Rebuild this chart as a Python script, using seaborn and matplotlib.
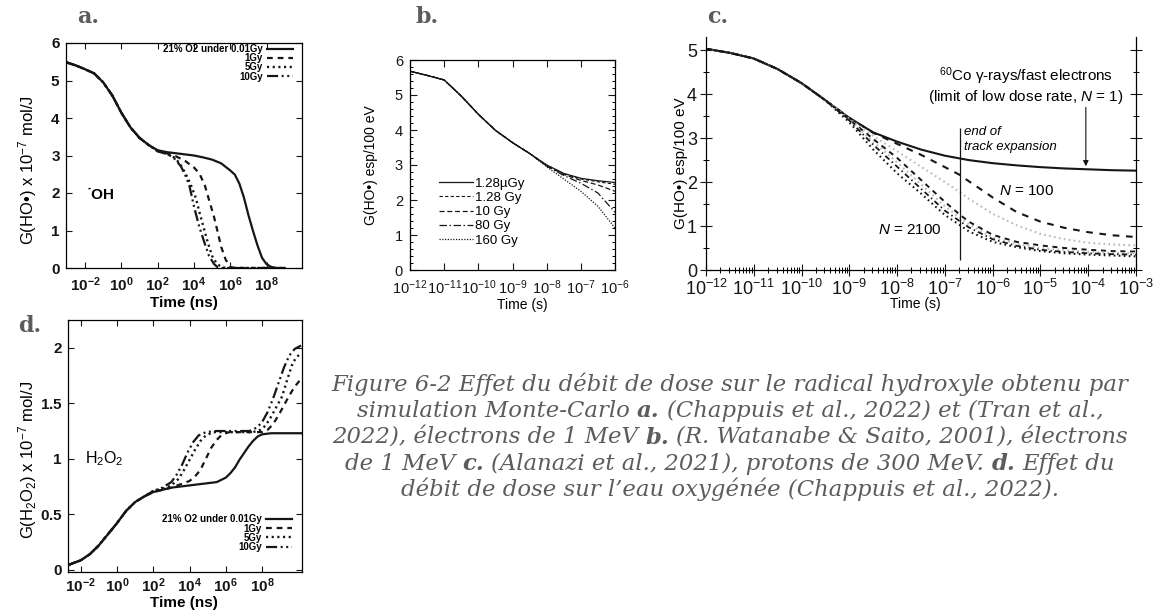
import numpy as np
import pandas as pd
import matplotlib
matplotlib.use("Agg")
import matplotlib.pyplot as plt
import seaborn as sns
from matplotlib.ticker import (FixedLocator, FuncFormatter, MultipleLocator,
                               LogLocator, NullLocator, NullFormatter,
                               LogFormatterMathtext)

# ---------------------------------------------------------------- data
# times are given as decimal exponents (log10 of the time), G values as read

# (a) G(HO.) vs time (ns) -- common early part, then one tail per dose
A_T_EARLY = [-3, -2.5, -2, -1.5, -1, -0.5, 0, 0.5, 1, 1.5]
A_G_EARLY = [5.48, 5.40, 5.30, 5.19, 4.95, 4.60, 4.14, 3.75, 3.47, 3.28]
A_T_LOW = [2, 2.5, 3, 3.5, 4, 4.5, 5, 5.5, 6, 6.25, 6.5, 6.75, 7, 7.25, 7.5,
           7.75, 8, 8.25, 8.5, 9]
A_G_LOW = [3.14, 3.09, 3.06, 3.03, 3.0, 2.95, 2.89, 2.79, 2.6, 2.49, 2.25,
           1.88, 1.41, 0.99, 0.6, 0.27, 0.1, 0.03, 0.0, 0.0]
A_T_1GY = [2, 2.5, 3, 3.5, 4, 4.3, 4.6, 4.85, 5.1, 5.3, 5.5, 5.75, 6, 6.25, 9]
A_G_1GY = [3.13, 3.06, 2.98, 2.86, 2.68, 2.52, 2.2, 1.78, 1.37, 0.97, 0.56,
           0.22, 0.03, 0.0, 0.0]
A_T_5GY = [2, 2.5, 2.9, 3.2, 3.5, 3.8, 4.1, 4.3, 4.56, 4.75, 5.0, 5.25, 5.5,
           5.75, 9]
A_G_5GY = [3.12, 3.05, 2.95, 2.8, 2.55, 2.25, 1.87, 1.49, 1.03, 0.7, 0.32,
           0.12, 0.03, 0.0, 0.0]
A_T_10GY = [2, 2.5, 2.83, 3.05, 3.28, 3.5, 3.74, 4.01, 4.28, 4.56, 4.83, 5.1,
            5.3, 5.5, 9]
A_G_10GY = [3.11, 3.04, 2.96, 2.85, 2.71, 2.5, 2.21, 1.62, 1.12, 0.7, 0.32,
            0.11, 0.02, 0.0, 0.0]
A_LABELS = ["21% O2 under 0.01Gy", "1Gy", "5Gy", "10Gy"]

# (b) G(HO.) vs time (s), electrons
B_T_EARLY = [-12, -11.5, -11, -10.5, -10, -9.5, -9, -8.5]
B_G_EARLY = [5.68, 5.56, 5.43, 4.97, 4.45, 3.99, 3.64, 3.33]
B_T_TAIL = [-8, -7.5, -7, -6.5, -6]
B_G_TAILS = {
    "1.28\u00b5Gy": [3.0, 2.76, 2.62, 2.55, 2.5],
    "1.28 Gy": [3.0, 2.75, 2.6, 2.52, 2.45],
    "10 Gy": [2.98, 2.73, 2.56, 2.43, 2.25],
    "80 Gy": [2.97, 2.7, 2.48, 2.2, 1.65],
    "160 Gy": [2.95, 2.6, 2.25, 1.82, 1.2],
}

# (c) G(HO.) vs time (s), protons, N = number of tracks
C_T_SOLID = [-12, -11.5, -11, -10.5, -10, -9.5, -9, -8.5, -8, -7.5, -7, -6.5,
             -6, -5.5, -5, -4.5, -4, -3.5, -3]
C_G_SOLID = [5.03, 4.94, 4.81, 4.57, 4.25, 3.86, 3.46, 3.13, 2.92, 2.74, 2.6,
             2.5, 2.43, 2.38, 2.34, 2.31, 2.29, 2.27, 2.26]
C_T_N100 = [-8.5, -8, -7.5, -7, -6.7, -6.5, -6.2, -6, -5.5, -5, -4.5, -4,
            -3.5, -3]
C_G_N100 = [3.12, 2.87, 2.62, 2.34, 2.17, 2.02, 1.8, 1.65, 1.32, 1.1, 0.96,
            0.86, 0.79, 0.75]
C_T_TAIL = [-9, -8.5, -8, -7.5, -7, -6.7, -6.5, -6, -5.5, -5, -4.5, -4, -3.5,
            -3]
C_G_LIGHT1 = [3.44, 3.05, 2.7, 2.35, 2.0, 1.78, 1.62, 1.28, 1.02, 0.82, 0.7,
              0.62, 0.58, 0.56]
C_G_DASH2 = [3.42, 2.98, 2.55, 2.05, 1.55, 1.27, 1.1, 0.8, 0.64, 0.56, 0.5,
             0.46, 0.43, 0.42]
C_G_LIGHT2 = [3.41, 2.92, 2.45, 1.95, 1.45, 1.2, 1.04, 0.74, 0.6, 0.5, 0.45,
              0.41, 0.39, 0.38]
C_G_DASHDOT = [3.4, 2.85, 2.35, 1.85, 1.35, 1.12, 0.97, 0.7, 0.55, 0.46, 0.41,
               0.38, 0.36, 0.35]
C_G_N2100 = [3.36, 2.74, 2.2, 1.74, 1.25, 1.03, 0.88, 0.64, 0.52, 0.43, 0.38,
             0.35, 0.33, 0.31]
C_TRACK_END = -6.68          # end of track expansion (log10 s)
C_TRACK_SPAN = (0.22, 3.24)

# (d) G(H2O2) vs time (ns)
D_T_EARLY = [-2.7, -2.5, -2, -1.5, -1, -0.5, 0, 0.5, 1, 1.5]
D_G_EARLY = [0.04, 0.055, 0.085, 0.14, 0.22, 0.32, 0.42, 0.53, 0.61, 0.66]
D_T_LOW = [2, 2.5, 3, 3.5, 4, 4.5, 5, 5.5, 6, 6.25, 6.5, 6.75, 7, 7.25, 7.5,
           7.75, 8, 8.5, 9, 10.2]
D_G_LOW = [0.7, 0.72, 0.74, 0.75, 0.76, 0.77, 0.78, 0.79, 0.83, 0.87, 0.92,
           0.99, 1.05, 1.11, 1.16, 1.2, 1.22, 1.23, 1.23, 1.23]
D_T_1GY = [2, 2.5, 3, 3.5, 4, 4.3, 4.6, 4.9, 5.2, 5.5, 5.8, 6.2, 7, 8, 8.3,
           8.6, 8.9, 9.2, 9.5, 9.8, 10.15]
D_G_1GY = [0.7, 0.72, 0.74, 0.77, 0.8, 0.84, 0.9, 1.0, 1.1, 1.17, 1.22, 1.24,
           1.24, 1.24, 1.26, 1.31, 1.39, 1.48, 1.57, 1.65, 1.72]
D_T_5GY = [2, 2.5, 3, 3.4, 3.7, 4, 4.3, 4.6, 4.9, 5.3, 6.5, 7.5, 7.9, 8.2,
           8.5, 8.8, 9.1, 9.4, 9.7, 10.15]
D_G_5GY = [0.71, 0.73, 0.76, 0.82, 0.9, 0.99, 1.08, 1.16, 1.21, 1.24, 1.24,
           1.24, 1.26, 1.3, 1.38, 1.47, 1.56, 1.72, 1.87, 1.96]
D_T_10GY = [2, 2.5, 3, 3.3, 3.6, 3.9, 4.2, 4.5, 4.9, 5.5, 6.5, 7.3, 7.7, 8,
            8.3, 8.6, 8.9, 9.2, 9.5, 9.8, 10.15]
D_G_10GY = [0.71, 0.74, 0.79, 0.86, 0.95, 1.06, 1.15, 1.21, 1.24, 1.25, 1.25,
            1.25, 1.28, 1.33, 1.42, 1.54, 1.68, 1.82, 1.93, 1.99, 2.02]

CAPTION = [
    [("Figure 6-2 Effet du d\u00e9bit de dose sur le radical hydroxyle obtenu par", False)],
    [("simulation Monte-Carlo", False), ("a.", True),
     ("(Chappuis et al., 2022) et (Tran et al.,", False)],
    [("2022), \u00e9lectrons de 1 MeV", False), ("b.", True),
     ("(R. Watanabe & Saito, 2001), \u00e9lectrons", False)],
    [("de 1 MeV", False), ("c.", True),
     ("(Alanazi et al., 2021), protons de 300 MeV.", False), ("d.", True),
     ("Effet du", False)],
    [("d\u00e9bit de dose sur l\u2019eau oxyg\u00e9n\u00e9e (Chappuis et al., 2022).", False)],
]

# ---------------------------------------------------------------- style
plt.rcParams.update({
    "font.family": "Liberation Sans",
    "mathtext.fontset": "custom",
    "mathtext.rm": "Liberation Sans",
    "mathtext.it": "Liberation Sans:italic",
    "mathtext.bf": "Liberation Sans:bold",
    "axes.linewidth": 0.9,
    "xtick.major.width": 0.8,
    "ytick.major.width": 0.8,
    "xtick.minor.width": 0.7,
    "ytick.minor.width": 0.7,
})

W, H = 1163, 611
fig = plt.figure(figsize=(W / 100, H / 100), dpi=100)
INK = "#161616"
LABEL_GREY = "#5c5c5c"


def axes_px(box):
    left, top, right, bottom = box
    return fig.add_axes([left / W, 1 - bottom / H, (right - left) / W,
                         (bottom - top) / H])


def place_labels(ax, box, xlab, ylab):
    """xlab = (centre x px, top y px); ylab = (right edge x px, centre y px)."""
    left, top, right, bottom = box
    w, h = right - left, bottom - top
    ax.xaxis.set_label_coords((xlab[0] - left) / w, -(xlab[1] - bottom) / h)
    ax.yaxis.set_label_coords((ylab[0] - left) / w, (bottom - ylab[1]) / h)


def series(t, g):
    return pd.DataFrame({"time": np.power(10.0, np.asarray(t, float)),
                         "G": np.asarray(g, float)})


def draw(ax, df, ls, lw, color=INK, label=None):
    sns.lineplot(data=df, x="time", y="G", ax=ax, color=color, linewidth=lw,
                 linestyle=ls, label=label, errorbar=None, sort=False,
                 legend=False)


bold_pow = FuncFormatter(lambda v, p: r"$\mathbf{10^{%d}}$" % round(np.log10(v)))
bold_num = FuncFormatter(lambda v, p: r"$\mathbf{%g}$" % v)

BOX_A = (66, 43, 302, 268)
BOX_B = (410, 60, 615, 270)
BOX_C = (706, 37, 1136, 270)
BOX_D = (68, 320, 302, 572)

# ---------------------------------------------------------------- panel a
ax_a = axes_px(BOX_A)
a_styles = [("-", 1.6), ((0, (2.6, 2.2)), 1.6), ((0, (0.9, 1.5)), 1.7),
            ((0, (5, 1.6, 0.9, 1.6, 0.9, 1.6)), 1.6)]
a_sets = [(A_T_LOW, A_G_LOW), (A_T_1GY, A_G_1GY), (A_T_5GY, A_G_5GY),
          (A_T_10GY, A_G_10GY)]
for (t, g), (ls, lw), lab in zip(a_sets, a_styles, A_LABELS):
    draw(ax_a, series(A_T_EARLY + t, A_G_EARLY + g), ls, lw, label=lab)
ax_a.set_xscale("log")
ax_a.set_xlim(10 ** -3.05, 10 ** 9.95)
ax_a.set_ylim(0, 6)
ax_a.xaxis.set_major_locator(FixedLocator([10.0 ** k for k in range(-2, 9, 2)]))
ax_a.xaxis.set_minor_locator(NullLocator())
ax_a.xaxis.set_major_formatter(bold_pow)
ax_a.yaxis.set_major_locator(MultipleLocator(1))
ax_a.yaxis.set_major_formatter(bold_num)
ax_a.tick_params(direction="in", length=4, top=True, right=True,
                 labelsize=11, colors=INK)
ax_a.tick_params(axis="x", pad=5)
ax_a.tick_params(axis="y", pad=4)
ax_a.set_xlabel("Time (ns)", fontsize=11, fontweight="bold")
ax_a.set_ylabel("G(HO\u2022) x 10$^{-7}$ mol/J", fontsize=12)
place_labels(ax_a, BOX_A, (184, 296), (39, 170))
ax_a.text(10 ** -1.9, 1.95, "\u02d9OH", fontsize=11, fontweight="bold",
          va="center", ha="left")
ax_a.legend(loc="upper right", bbox_to_anchor=(1 - 9 / 236, 1 - 1 / 225),
            frameon=False, markerfirst=False, handlelength=2.7,
            handletextpad=0.4, labelspacing=-0.08, borderpad=0,
            borderaxespad=0, prop={"weight": "bold", "size": 7})

# ---------------------------------------------------------------- panel b
ax_b = axes_px(BOX_B)
b_styles = {"1.28\u00b5Gy": ("-", 0.9), "1.28 Gy": ((0, (3, 2)), 0.8),
            "10 Gy": ((0, (4, 2.2)), 0.9), "80 Gy": ((0, (6, 2, 1.2, 2)), 0.9),
            "160 Gy": ((0, (1, 1.2)), 0.9)}
for lab, tail in B_G_TAILS.items():
    ls, lw = b_styles[lab]
    draw(ax_b, series(B_T_EARLY + B_T_TAIL, B_G_EARLY + tail), ls, lw, label=lab)
ax_b.set_xscale("log")
ax_b.set_xlim(1e-12, 1e-6)
ax_b.set_ylim(0, 6)
ax_b.xaxis.set_major_locator(LogLocator(base=10, numticks=20))
ax_b.xaxis.set_minor_locator(NullLocator())
ax_b.xaxis.set_major_formatter(LogFormatterMathtext())
ax_b.yaxis.set_major_locator(MultipleLocator(1))
ax_b.yaxis.set_minor_locator(MultipleLocator(0.2))
ax_b.tick_params(which="major", direction="in", length=5, top=True,
                 right=True, labelsize=10.5, colors=INK)
ax_b.tick_params(axis="x", pad=6)
ax_b.tick_params(axis="y", pad=5)
ax_b.tick_params(which="minor", direction="in", length=2.5, top=True,
                 right=True)
ax_b.set_xlabel("Time (s)", fontsize=10)
ax_b.set_ylabel("G(HO\u2022) esp/100 eV", fontsize=10)
place_labels(ax_b, BOX_B, (522, 298), (378, 165))
ax_b.legend(loc="upper left", bbox_to_anchor=(0.14, 0.44), frameon=False,
            fontsize=9.5, handlelength=2.6, handletextpad=0.15,
            labelspacing=0.15, borderpad=0, borderaxespad=0)

# ---------------------------------------------------------------- panel c
ax_c = axes_px(BOX_C)
early_c_t = [t for t in C_T_SOLID if t < -9.2]
early_c_g = C_G_SOLID[:len(early_c_t)]
mid_c_t = [t for t in C_T_SOLID if t < -8.7]
mid_c_g = C_G_SOLID[:len(mid_c_t)]
LIGHT = "#b9b9b9"
draw(ax_c, series(C_T_SOLID, C_G_SOLID), "-", 1.5)
draw(ax_c, series(mid_c_t + C_T_N100, mid_c_g + C_G_N100), (0, (3.2, 3.2)), 1.5)
draw(ax_c, series(early_c_t + C_T_TAIL, early_c_g + C_G_LIGHT1), (0, (0.8, 1.6)), 1.5, LIGHT)
draw(ax_c, series(early_c_t + C_T_TAIL, early_c_g + C_G_DASH2), (0, (2.6, 2.4)), 1.4)
draw(ax_c, series(early_c_t + C_T_TAIL, early_c_g + C_G_LIGHT2), (0, (0.8, 1.6)), 1.5, LIGHT)
draw(ax_c, series(early_c_t + C_T_TAIL, early_c_g + C_G_DASHDOT), (0, (3, 1.8, 0.8, 1.8)), 1.3)
draw(ax_c, series(early_c_t + C_T_TAIL, early_c_g + C_G_N2100), (0, (0.8, 1.6)), 1.5)
ax_c.vlines(10 ** C_TRACK_END, *C_TRACK_SPAN, color=INK, lw=0.9)
ax_c.set_xscale("log")
ax_c.set_xlim(1e-12, 1e-3)
ax_c.set_ylim(0, 5.3)
ax_c.spines["top"].set_visible(False)
ax_c.xaxis.set_major_locator(LogLocator(base=10, numticks=20))
ax_c.xaxis.set_minor_locator(LogLocator(base=10, subs=range(2, 10), numticks=20))
ax_c.xaxis.set_minor_formatter(NullFormatter())
ax_c.xaxis.set_major_formatter(LogFormatterMathtext())
ax_c.yaxis.set_major_locator(MultipleLocator(1))
ax_c.yaxis.set_minor_locator(MultipleLocator(0.5))
ax_c.tick_params(which="major", direction="inout", length=9, right=True,
                 top=False, labelsize=13, pad=2, colors=INK)
ax_c.tick_params(which="minor", direction="inout", length=5, right=True,
                 top=False)
ax_c.set_xlabel("Time (s)", fontsize=10)
ax_c.set_ylabel("G(HO\u2022) esp/100 eV", fontsize=11)
place_labels(ax_c, BOX_C, (915, 297), (688, 163))
ax_c.text(10 ** -5.3, 4.4, "$^{60}$Co \u03b3-rays/fast electrons",
          fontsize=11, ha="center", va="center")
ax_c.text(10 ** -5.3, 3.93, "(limit of low dose rate, $N$ = 1)",
          fontsize=11, ha="center", va="center")
ax_c.annotate("", xy=(10 ** -4.05, 2.36), xytext=(10 ** -4.05, 3.7),
              arrowprops=dict(arrowstyle="-|>", color=INK, lw=0.8,
                              mutation_scale=8, shrinkA=0, shrinkB=0))
ax_c.text(10 ** -6.6, 3.13, "end of", fontsize=9.5, style="italic",
          ha="left", va="center")
ax_c.text(10 ** -6.6, 2.8, "track expansion", fontsize=9.5, style="italic",
          ha="left", va="center")
ax_c.text(10 ** -5.86, 1.8, "$N$ = 100", fontsize=11, ha="left", va="center")
ax_c.text(10 ** -7.06, 0.92, "$N$ = 2100", fontsize=11, ha="right",
          va="center")

# ---------------------------------------------------------------- panel d
ax_d = axes_px(BOX_D)
d_sets = [(D_T_LOW, D_G_LOW), (D_T_1GY, D_G_1GY), (D_T_5GY, D_G_5GY),
          (D_T_10GY, D_G_10GY)]
for (t, g), (ls, lw), lab in zip(d_sets, a_styles, A_LABELS):
    draw(ax_d, series(D_T_EARLY + t, D_G_EARLY + g), ls, lw, label=lab)
ax_d.set_xscale("log")
ax_d.set_xlim(10 ** -2.7, 10 ** 10.2)
ax_d.set_ylim(-0.02, 2.25)
ax_d.xaxis.set_major_locator(FixedLocator([10.0 ** k for k in range(-2, 9, 2)]))
ax_d.xaxis.set_minor_locator(NullLocator())
ax_d.xaxis.set_major_formatter(bold_pow)
ax_d.yaxis.set_major_locator(MultipleLocator(0.5))
ax_d.yaxis.set_major_formatter(bold_num)
ax_d.tick_params(direction="in", length=4, top=True, right=True,
                 labelsize=11, colors=INK)
ax_d.tick_params(axis="x", pad=3)
ax_d.tick_params(axis="y", pad=4)
ax_d.set_xlabel("Time (ns)", fontsize=11, fontweight="bold")
ax_d.set_ylabel("G(H$_2$O$_2$) x 10$^{-7}$ mol/J", fontsize=12)
place_labels(ax_d, BOX_D, (184, 596), (39, 460))
ax_d.text(10 ** -1.78, 1.0, "H$_2$O$_2$", fontsize=11.5, va="center",
          ha="left")
ax_d.legend(loc="lower right", bbox_to_anchor=(1 - 10 / 234, 20 / 252),
            frameon=False, markerfirst=False, handlelength=2.7,
            handletextpad=0.4, labelspacing=-0.08, borderpad=0,
            borderaxespad=0, prop={"weight": "bold", "size": 7})

# ---------------------------------------------------------------- labels
for txt, (x, y) in zip(["a.", "b.", "c.", "d."],
                       [(88, 17), (427, 17), (718, 17), (30, 326)]):
    fig.text(x / W, 1 - y / H, txt, fontsize=16, fontweight="bold",
             family="DejaVu Serif", color=LABEL_GREY, ha="center", va="center")

# ---------------------------------------------------------------- caption
renderer = fig.canvas.get_renderer()
CAP_FONT = dict(family="DejaVu Serif", style="italic", color=LABEL_GREY,
                va="baseline", ha="left")


def text_width(s, size, bold=False):
    t = fig.text(0, 0, s, fontsize=size, weight="bold" if bold else "normal",
                 **CAP_FONT)
    w = t.get_window_extent(renderer).width
    t.remove()
    return w


cap_size = 14 * 798 / text_width(CAPTION[0][0][0], 14)
space_w = text_width("n n", cap_size) - text_width("nn", cap_size)
CAP_CX = 730
for i, segs in enumerate(CAPTION):
    base = 391 + i * 26.3
    widths = [text_width(s, cap_size, b) for s, b in segs]
    x = CAP_CX - (sum(widths) + space_w * (len(segs) - 1)) / 2
    for (s, b), w in zip(segs, widths):
        fig.text(x / W, 1 - base / H, s, fontsize=cap_size,
                 weight="bold" if b else "normal", **CAP_FONT)
        x += w + space_w

fig.savefig("out.png", dpi=100)
